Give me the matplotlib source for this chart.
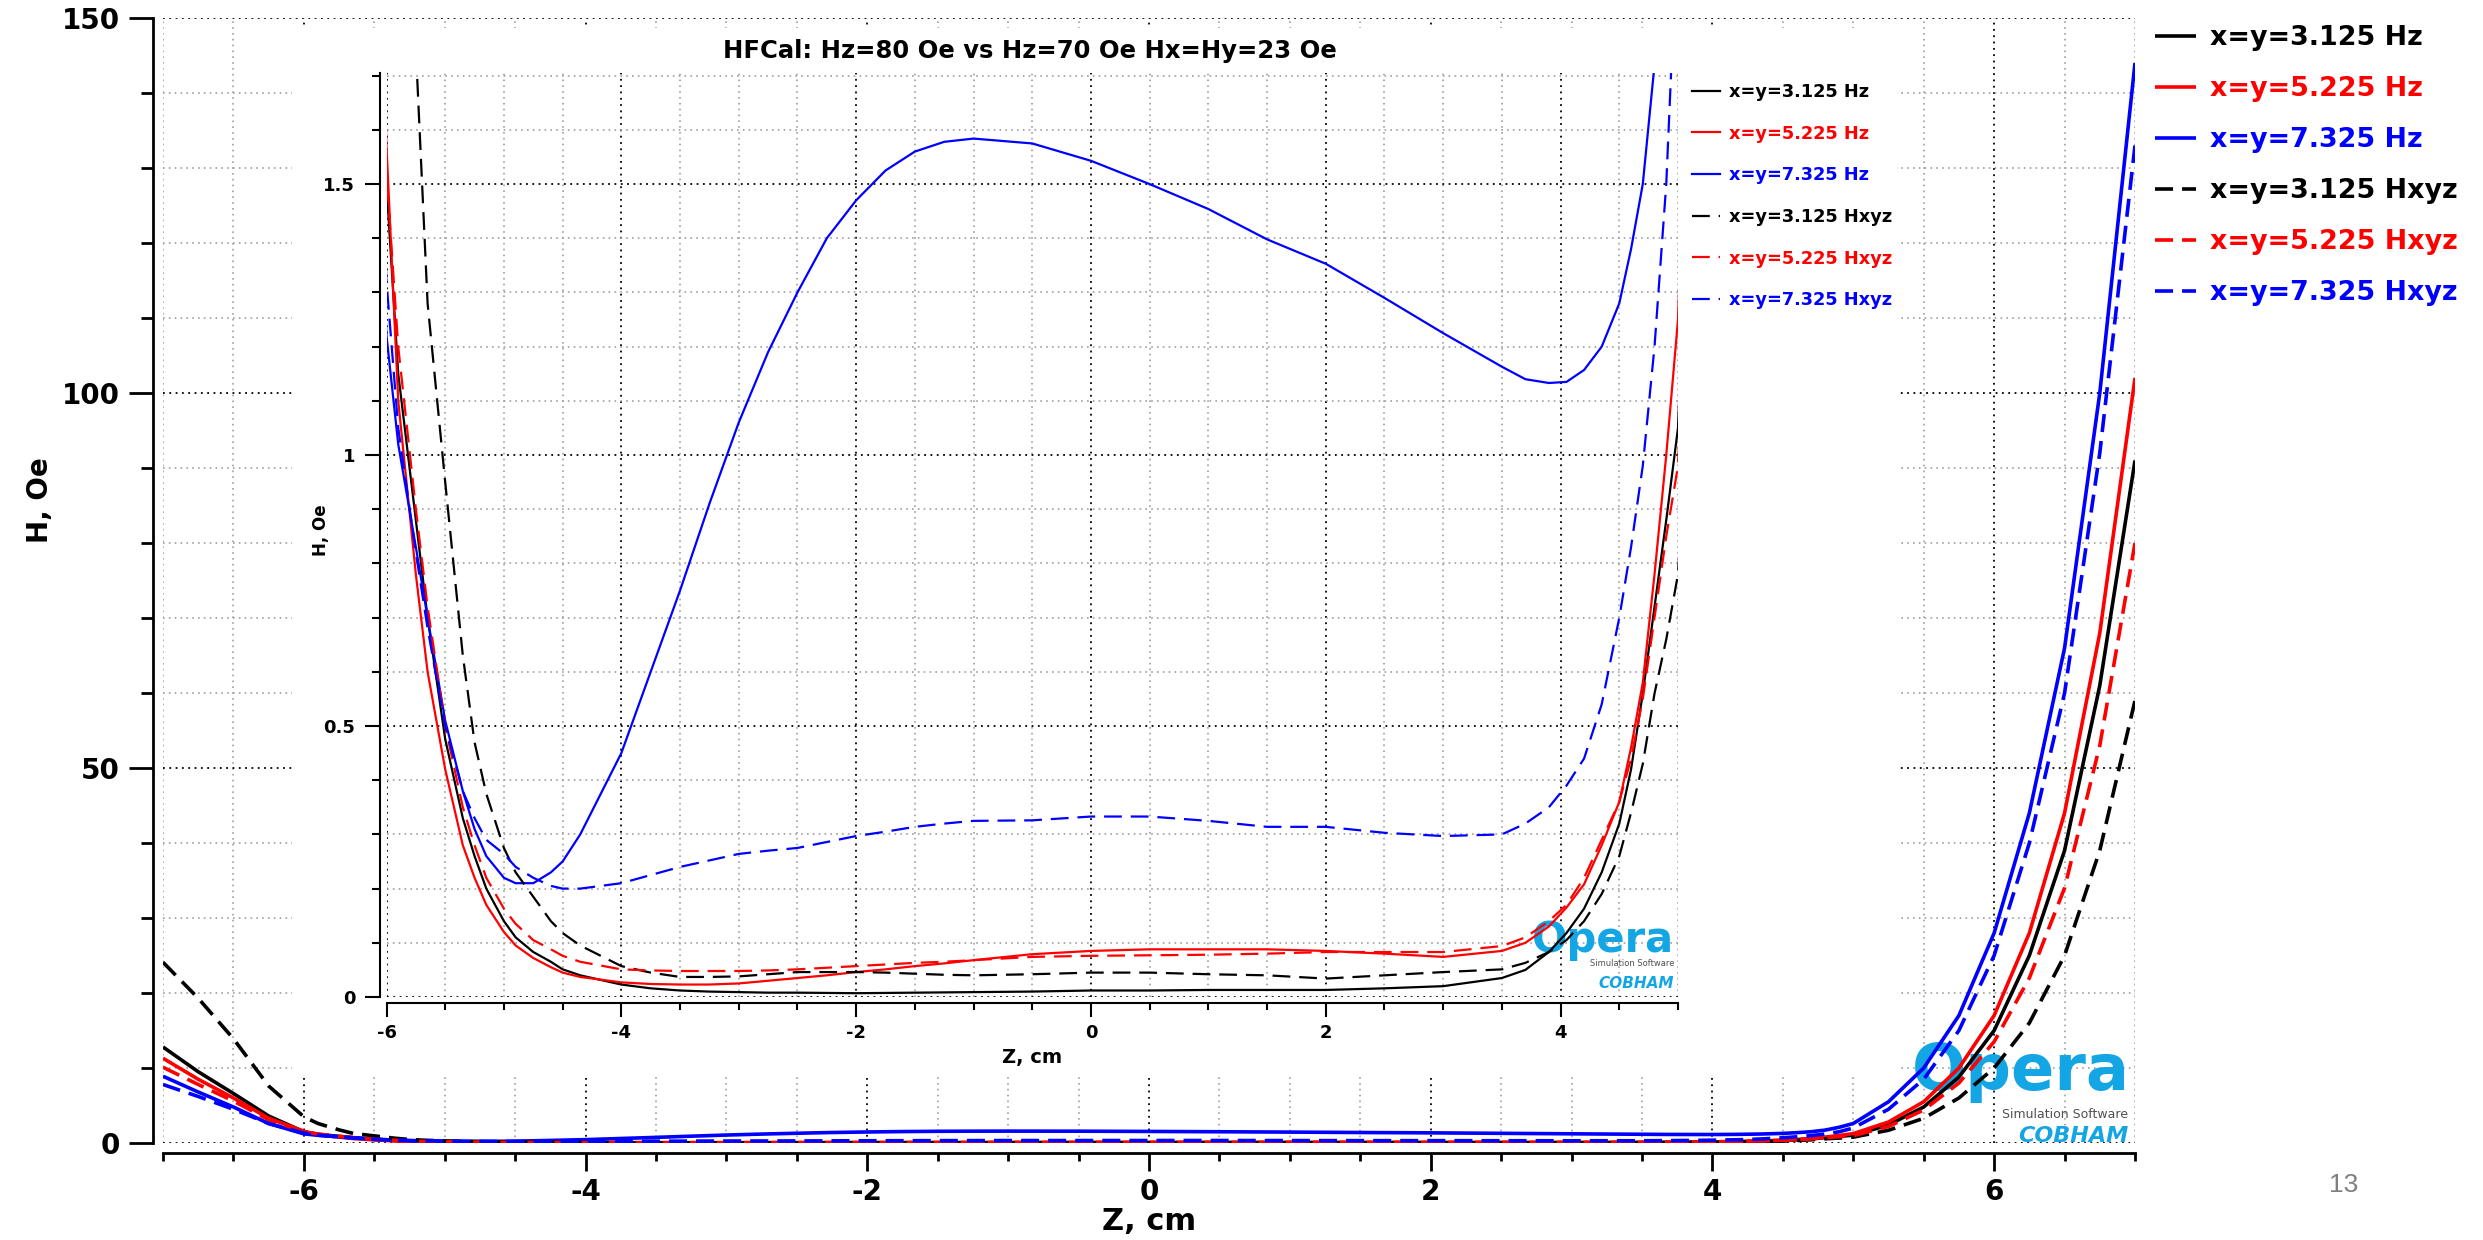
import matplotlib
matplotlib.use('Agg')
import matplotlib.pyplot as plt
from matplotlib.patches import Rectangle
import numpy as np

z = [-7.0, -6.75, -6.5, -6.25, -6.0, -5.9, -5.75, -5.65, -5.5, -5.35, -5.25, -5.15,
     -5.0, -4.9, -4.75, -4.6, -4.5, -4.35, -4.0, -3.75, -3.5, -3.25, -3.0, -2.75,
     -2.5, -2.25, -2.0, -1.75, -1.5, -1.25, -1.0, -0.5, 0.0, 0.5, 1.0, 1.5,
     2.0, 2.5, 3.0, 3.5, 3.7, 3.9, 4.05, 4.2, 4.35, 4.5, 4.6, 4.7,
     4.8, 4.9, 5.0, 5.25, 5.5, 5.75, 6.0, 6.25, 6.5, 6.75, 7.0]

# H, Oe for each series
hz_3125 = [12.8, 9.5, 6.6, 3.6, 1.5, 1.15, 0.88, 0.70, 0.476, 0.33, 0.26, 0.20,
           0.14, 0.11, 0.083, 0.065, 0.051, 0.04, 0.023, 0.016, 0.012, 0.010, 0.009, 0.008,
           0.008, 0.0075, 0.007, 0.0075, 0.008, 0.0085, 0.009, 0.010, 0.012, 0.012, 0.013, 0.013,
           0.013, 0.016, 0.02, 0.035, 0.05, 0.083, 0.118, 0.163, 0.23, 0.32, 0.42, 0.56,
           0.72, 0.88, 1.05, 2.4, 4.8, 8.8, 15.0, 25.0, 39.0, 61.0, 91.0]
hz_5225 = [11.3, 8.5, 6.0, 3.3, 1.57, 1.1, 0.78, 0.60, 0.42, 0.28, 0.22, 0.17,
           0.12, 0.095, 0.072, 0.055, 0.045, 0.037, 0.027, 0.024, 0.023, 0.023, 0.025, 0.03,
           0.035, 0.04, 0.046, 0.051, 0.057, 0.062, 0.068, 0.079, 0.085, 0.088, 0.088, 0.088,
           0.085, 0.08, 0.074, 0.085, 0.10, 0.13, 0.165, 0.208, 0.28, 0.36, 0.46, 0.58,
           0.78, 1.0, 1.25, 2.8, 5.5, 10.0, 17.0, 28.0, 44.0, 68.0, 102.0]
hz_7325 = [8.9, 6.8, 4.8, 2.6, 1.22, 1.02, 0.83, 0.70, 0.51, 0.38, 0.31, 0.26,
           0.22, 0.21, 0.21, 0.23, 0.25, 0.30, 0.45, 0.60, 0.75, 0.91, 1.06, 1.19,
           1.30, 1.40, 1.47, 1.525, 1.56, 1.578, 1.584, 1.575, 1.543, 1.50, 1.454, 1.398,
           1.353, 1.29, 1.225, 1.163, 1.14, 1.133, 1.135, 1.157, 1.2, 1.28, 1.38, 1.5,
           1.72, 2.1, 2.6, 5.5, 10.0, 17.0, 28.0, 44.0, 66.0, 100.0, 144.0]
hxyz_3125 = [24.1, 19.3, 13.9, 7.6, 3.5, 2.6, 1.75, 1.28, 0.95, 0.63, 0.47, 0.375,
             0.275, 0.23, 0.185, 0.14, 0.118, 0.095, 0.057, 0.045, 0.037, 0.037, 0.038, 0.042,
             0.046, 0.046, 0.046, 0.045, 0.043, 0.041, 0.040, 0.042, 0.045, 0.045, 0.042, 0.040,
             0.034, 0.040, 0.046, 0.051, 0.063, 0.083, 0.105, 0.14, 0.19, 0.26, 0.34, 0.43,
             0.56, 0.66, 0.78, 1.7, 3.3, 6.0, 10.0, 16.0, 25.0, 39.0, 59.0]
hxyz_5225 = [10.1, 7.8, 5.6, 3.1, 1.52, 1.2, 0.9, 0.72, 0.50, 0.35, 0.28, 0.22,
             0.163, 0.135, 0.105, 0.088, 0.076, 0.065, 0.051, 0.049, 0.048, 0.048, 0.048, 0.049,
             0.051, 0.054, 0.057, 0.060, 0.063, 0.065, 0.068, 0.074, 0.076, 0.077, 0.078, 0.08,
             0.083, 0.083, 0.083, 0.094, 0.11, 0.14, 0.17, 0.22, 0.29, 0.36, 0.44, 0.55,
             0.70, 0.85, 0.98, 2.2, 4.4, 8.0, 13.5, 22.0, 34.0, 53.0, 80.0]
hxyz_7325 = [7.8, 6.2, 4.5, 2.6, 1.32, 1.05, 0.82, 0.68, 0.50, 0.38, 0.33, 0.29,
             0.264, 0.24, 0.22, 0.205, 0.20, 0.20, 0.21, 0.225, 0.24, 0.252, 0.264, 0.27,
             0.275, 0.286, 0.297, 0.305, 0.314, 0.32, 0.325, 0.326, 0.333, 0.333, 0.325, 0.314,
             0.314, 0.303, 0.297, 0.30, 0.32, 0.35, 0.39, 0.44, 0.54, 0.70, 0.83, 0.98,
             1.2, 1.5, 2.0, 4.5, 8.5, 15.0, 25.0, 40.0, 60.0, 92.0, 133.0]

labels = ['x=y=3.125 Hz', 'x=y=5.225 Hz', 'x=y=7.325 Hz',
          'x=y=3.125 Hxyz', 'x=y=5.225 Hxyz', 'x=y=7.325 Hxyz']
series = [hz_3125, hz_5225, hz_7325, hxyz_3125, hxyz_5225, hxyz_7325]
colors = ['#000000', '#ff0000', '#0000ff', '#000000', '#ff0000', '#0000ff']
dashed = [False, False, False, True, True, True]

main_xticks = [-6, -4, -2, 0, 2, 4, 6]
main_xlabels = ['-6', '-4', '-2', '0', '2', '4', '6']
main_yticks = [0, 50, 100, 150]
inset_xticks = [-6, -4, -2, 0, 2, 4]
inset_xlabels = ['-6', '-4', '-2', '0', '2', '4']
inset_yticks = [0, 0.5, 1, 1.5]
inset_ylabels = ['0', '0.5', '1', '1.5']

plt.rcParams['font.family'] = 'DejaVu Sans'
W, H = 2483, 1240
fig = plt.figure(figsize=(W / 100, H / 100), dpi=100)
logo_blue = '#14a5e4'


def px(x0, y0, x1, y1):
    # pixel box (top-left origin) -> figure fraction rect
    return [x0 / W, 1 - y1 / H, (x1 - x0) / W, (y1 - y0) / H]


def style_axes(ax, xt, xl, yt, yl, xminor, yminor, fs, lens, lw_spine, offset):
    for s in ['top', 'right']:
        ax.spines[s].set_visible(False)
    for s in ['left', 'bottom']:
        ax.spines[s].set_position(('outward', offset))
        ax.spines[s].set_linewidth(lw_spine)
    ax.set_xticks(xt)
    ax.set_xticklabels(xl)
    ax.set_yticks(yt)
    ax.set_yticklabels(yl)
    ax.set_xticks(xminor, minor=True)
    ax.set_yticks(yminor, minor=True)
    for lab in ax.get_xticklabels() + ax.get_yticklabels():
        lab.set_fontweight('bold')
        lab.set_fontsize(fs)
    ax.tick_params(axis='x', which='major', length=lens[0], width=lw_spine, pad=5)
    ax.tick_params(axis='x', which='minor', length=lens[1], width=lw_spine)
    ax.tick_params(axis='y', which='major', length=lens[2], width=lw_spine, pad=7)
    ax.tick_params(axis='y', which='minor', length=lens[3], width=lw_spine)
    ax.grid(which='major', color='black', linestyle=(0, (1, 2.5)), linewidth=1.3)
    ax.grid(which='minor', color='#a0a0a0', linestyle=(0, (1, 2.5)), linewidth=1.2)
    ax.set_axisbelow(True)


# ---- main plot ----
ax = fig.add_axes(px(163, 18, 2135, 1143), zorder=0)
handles = []
for ys, c, d, lab in zip(series, colors, dashed, labels):
    ln, = ax.plot(z, ys, color=c, lw=2.6, label=lab, solid_capstyle='butt')
    if d:
        ln.set_dashes((5, 2.5))
    handles.append(ln)
ax.set_xlim(-7, 7)
ax.set_ylim(0, 150)
style_axes(ax, main_xticks, main_xlabels, main_yticks, [str(v) for v in main_yticks],
           np.arange(-7, 7.01, 0.5), np.arange(0, 150.1, 10), 20, (13, 6, 17, 9), 2, 7)

fig.text(1149 / W, 1 - 1222 / H, 'Z, cm', ha='center', va='center', fontsize=22, fontweight='bold')
fig.text(40 / W, 1 - 500 / H, 'H, Oe', ha='center', va='center', rotation=90,
         fontsize=20, fontweight='bold')

# Opera logo (main)
ax.text(2130 / W, 1 - 1090 / H, 'Opera', transform=fig.transFigure, ha='right', va='baseline',
        fontsize=46, fontweight='bold', color=logo_blue, zorder=1.5)
ax.text(2128 / W, 1 - 1114 / H, 'Simulation Software', transform=fig.transFigure, ha='right',
        va='center', fontsize=9, color='#505050', zorder=1.5)
ax.text(2128 / W, 1 - 1136 / H, 'COBHAM', transform=fig.transFigure, ha='right', va='center',
        fontsize=16, fontweight='bold', style='italic', color=logo_blue, zorder=1.5)

fig.legend(handles, labels, loc='upper left', bbox_to_anchor=(2155 / W, 1 - 25 / H),
           frameon=False, borderpad=0, borderaxespad=0, handlelength=1.52, handletextpad=0.52,
           labelspacing=0.93, labelcolor='linecolor', prop={'weight': 'bold', 'size': 19.4})

# white backing behind the inset and its labels
fig.add_artist(Rectangle((292 / W, 1 - 1075 / H), (1897 - 292) / W, (1075 - 28) / H,
                         transform=fig.transFigure, facecolor='white', edgecolor='none', zorder=1))

# ---- inset ----
axi = fig.add_axes(px(386.5, 73, 1678, 997), zorder=2, facecolor='white')
ihandles = []
for ys, c, d, lab in zip(series, colors, dashed, labels):
    ln, = axi.plot(z, ys, color=c, lw=1.6, label=lab)
    if d:
        ln.set_dashes((8, 4))
    ihandles.append(ln)
axi.set_xlim(-6, 5)
axi.set_ylim(0, 1.705)
style_axes(axi, inset_xticks, inset_xlabels, inset_yticks, inset_ylabels,
           np.arange(-6, 5.01, 0.5), np.arange(0, 1.71, 0.1), 13, (10, 5, 11, 6), 1.5, 4.5)

fig.text(1030 / W, 1 - 51 / H, 'HFCal: Hz=80 Oe vs Hz=70 Oe Hx=Hy=23 Oe', ha='center',
         va='center', fontsize=17.5, fontweight='bold', zorder=3)
fig.text(1032 / W, 1 - 1058 / H, 'Z, cm', ha='center', va='center', fontsize=14,
         fontweight='bold', zorder=3)
fig.text(321 / W, 1 - 530 / H, 'H, Oe', ha='center', va='center', rotation=90, fontsize=12,
         fontweight='bold', zorder=3)

axi.text(1674 / W, 1 - 952 / H, 'Opera', transform=fig.transFigure, ha='right', va='baseline',
         fontsize=30, fontweight='bold', color=logo_blue, zorder=1.5)
axi.text(1674 / W, 1 - 964 / H, 'Simulation Software', transform=fig.transFigure, ha='right',
         va='center', fontsize=6, color='#505050', zorder=1.5)
axi.text(1674 / W, 1 - 983 / H, 'COBHAM', transform=fig.transFigure, ha='right', va='center',
         fontsize=11, fontweight='bold', style='italic', color=logo_blue, zorder=1.5)

fig.legend(ihandles, labels, loc='upper left', bbox_to_anchor=(1692 / W, 1 - 83 / H),
           frameon=False, borderpad=0, borderaxespad=0, handlelength=1.6, handletextpad=0.46,
           labelspacing=1.33, labelcolor='linecolor', prop={'weight': 'bold', 'size': 12.8})

# slide number
fig.text(2344 / W, 1 - 1185 / H, '13', ha='center', va='center', fontsize=19,
         color='#7f7f7f', family='Liberation Sans')

fig.savefig('out.png', dpi=100)
